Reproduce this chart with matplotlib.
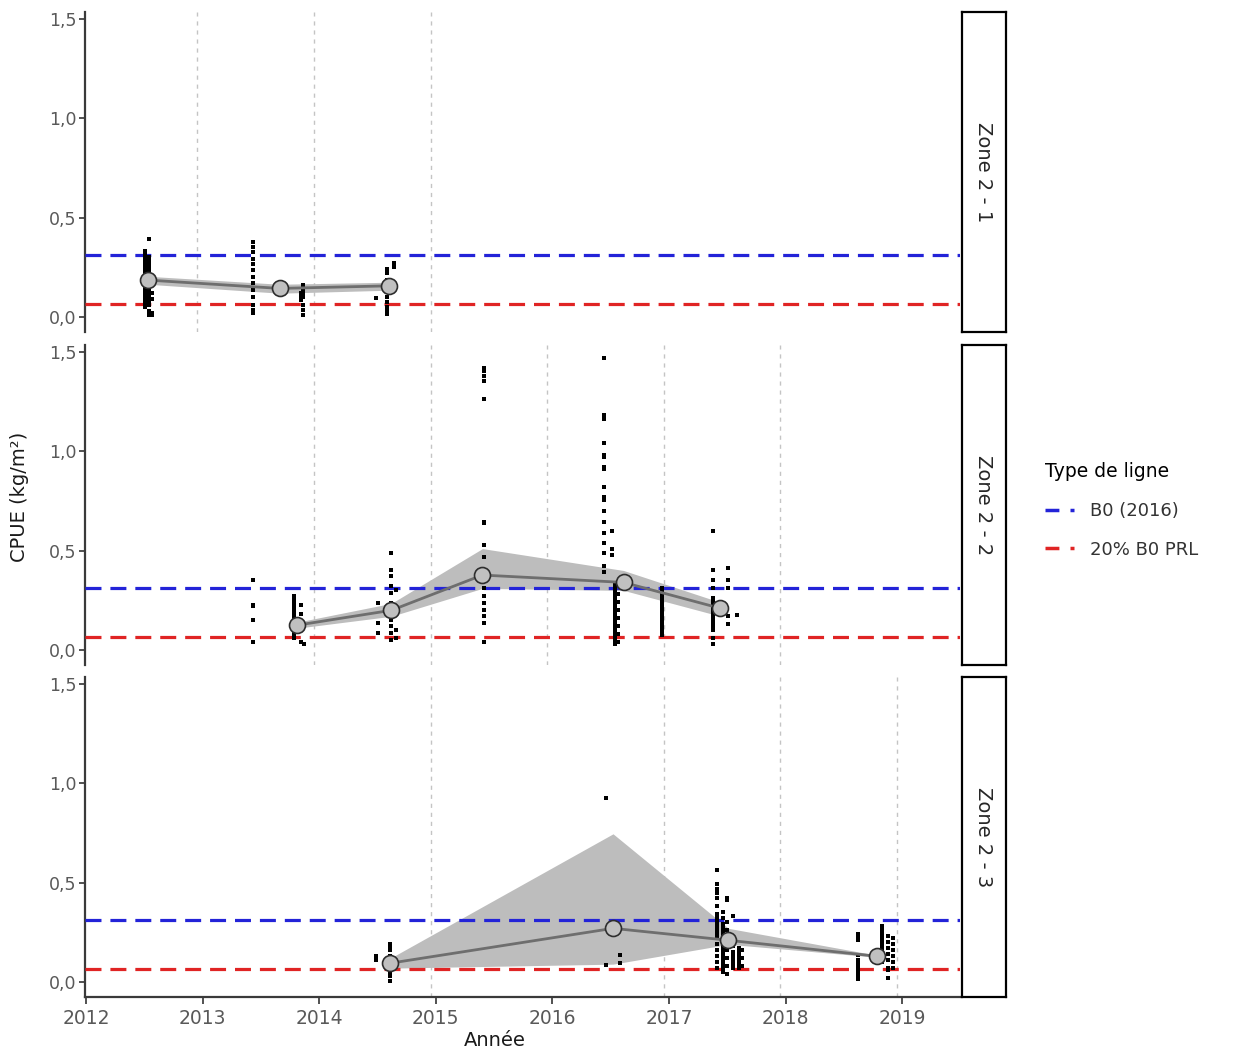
import numpy as np
import matplotlib
matplotlib.use("Agg")
import matplotlib.pyplot as plt
from matplotlib.lines import Line2D

# lignes de reference
b0 = 0.31
b0_20 = 0.065

# Zone 2 - 1 : releves bruts (date, valeurs)
z1_cols_x = [2012.51, 2012.54, 2012.57, 2013.43, 2013.84, 2013.86, 2014.49, 2014.58, 2014.64]
z1_cols_y = [
    [0.33, 0.31, 0.29, 0.27, 0.25, 0.23, 0.21, 0.19, 0.17, 0.15, 0.13, 0.11, 0.10, 0.09, 0.08, 0.06, 0.05],
    [0.39, 0.30, 0.28, 0.26, 0.24, 0.22, 0.20, 0.18, 0.16, 0.14, 0.12, 0.10, 0.08, 0.07, 0.06, 0.03, 0.01],
    [0.12, 0.09, 0.02, 0.01],
    [0.378, 0.353, 0.328, 0.294, 0.269, 0.236, 0.202, 0.169, 0.135, 0.102, 0.06, 0.035, 0.019],
    [0.12, 0.10, 0.085],
    [0.16, 0.135, 0.118, 0.10, 0.06, 0.035, 0.01],
    [0.094],
    [0.244, 0.22, 0.186, 0.128, 0.10, 0.077, 0.052, 0.03, 0.013],
    [0.27, 0.252],
]
z1_mean_x = [2012.53, 2013.66, 2014.60]
z1_mean_y = [0.186, 0.144, 0.157]
z1_lo = [0.165, 0.12, 0.135]
z1_hi = [0.205, 0.165, 0.175]

# Zone 2 - 2
z2_cols_x = [2013.43, 2013.78, 2013.84, 2013.87, 2014.50, 2014.62, 2014.66, 2015.41,
             2016.44, 2016.51, 2016.54, 2016.56, 2016.94, 2017.38, 2017.51, 2017.58]
z2_cols_y = [
    [0.35, 0.225, 0.22, 0.15, 0.04],
    [0.27, 0.25, 0.23, 0.21, 0.19, 0.17, 0.15, 0.13, 0.11, 0.09, 0.07, 0.06],
    [0.225, 0.18, 0.10, 0.04],
    [0.03],
    [0.235, 0.135, 0.085],
    [0.49, 0.40, 0.37, 0.32, 0.285, 0.235, 0.185, 0.15, 0.12, 0.085, 0.05],
    [0.30, 0.20, 0.10, 0.06],
    [1.418, 1.40, 1.375, 1.35, 1.26, 0.645, 0.64, 0.53, 0.47, 0.40, 0.35, 0.31, 0.27, 0.235, 0.20, 0.17, 0.135, 0.04],
    [1.47, 1.18, 1.16, 1.04, 0.98, 0.97, 0.92, 0.91, 0.82, 0.77, 0.755, 0.70, 0.645, 0.59, 0.54, 0.49, 0.42, 0.39],
    [0.60, 0.51, 0.48],
    [0.33, 0.31, 0.29, 0.27, 0.25, 0.23, 0.21, 0.19, 0.17, 0.15, 0.13, 0.11, 0.09, 0.07, 0.05, 0.03],
    [0.28, 0.24, 0.20, 0.16, 0.12, 0.08, 0.04],
    [0.31, 0.29, 0.27, 0.25, 0.23, 0.21, 0.19, 0.17, 0.15, 0.13, 0.11, 0.09, 0.075],
    [0.60, 0.40, 0.35, 0.31, 0.26, 0.24, 0.22, 0.20, 0.18, 0.16, 0.14, 0.12, 0.10, 0.06, 0.03],
    [0.41, 0.35, 0.31, 0.17, 0.13],
    [0.175],
]
z2_mean_x = [2013.81, 2014.62, 2015.40, 2016.61, 2017.44]
z2_mean_y = [0.125, 0.20, 0.377, 0.34, 0.21]
z2_lo = [0.11, 0.17, 0.31, 0.30, 0.17]
z2_hi = [0.14, 0.235, 0.51, 0.40, 0.24]

# Zone 2 - 3
z3_cols_x = [2014.49, 2014.61, 2016.46, 2016.58, 2017.41, 2017.46, 2017.50, 2017.55, 2017.60,
             2017.63, 2018.62, 2018.83, 2018.88, 2018.92]
z3_cols_y = [
    [0.13, 0.11],
    [0.19, 0.18, 0.16, 0.13, 0.05, 0.03, 0.005],
    [0.925, 0.085],
    [0.135, 0.095],
    [0.565, 0.495, 0.47, 0.45, 0.42, 0.38, 0.34, 0.32, 0.30, 0.28, 0.26, 0.24, 0.22, 0.19, 0.16, 0.13, 0.10, 0.07],
    [0.35, 0.32, 0.29, 0.27, 0.25, 0.23, 0.21, 0.19, 0.17, 0.15, 0.13, 0.11, 0.09, 0.07, 0.05],
    [0.42, 0.41, 0.30, 0.26, 0.20, 0.16, 0.12, 0.08, 0.04],
    [0.33, 0.18, 0.15, 0.13, 0.11, 0.09, 0.07],
    [0.17, 0.15, 0.13, 0.11, 0.09, 0.07],
    [0.16, 0.12, 0.08],
    [0.24, 0.225, 0.21, 0.135, 0.11, 0.09, 0.07, 0.05, 0.03, 0.015],
    [0.28, 0.26, 0.24, 0.22, 0.20, 0.18, 0.16, 0.14, 0.12, 0.10],
    [0.23, 0.20, 0.17, 0.14, 0.11, 0.07, 0.06, 0.02],
    [0.22, 0.19, 0.16, 0.13, 0.10, 0.07],
]
z3_mean_x = [2014.61, 2016.52, 2017.51, 2018.78]
z3_mean_y = [0.095, 0.27, 0.21, 0.13]
z3_lo = [0.07, 0.09, 0.19, 0.125]
z3_hi = [0.12, 0.745, 0.27, 0.135]

# lignes verticales (changement de saison) par zone
z1_vlines = [2013, 2014, 2015]
z2_vlines = [2014, 2015, 2016, 2017, 2018]
z3_vlines = [2015, 2017, 2018, 2019]

zones = ["Zone 2 - 1", "Zone 2 - 2", "Zone 2 - 3"]
years = [2012, 2013, 2014, 2015, 2016, 2017, 2018, 2019]
yticks = [0.0, 0.5, 1.0, 1.5]
ytick_labels = ["0,0", "0,5", "1,0", "1,5"]

panels = [
    (z1_cols_x, z1_cols_y, z1_mean_x, z1_mean_y, z1_lo, z1_hi, z1_vlines),
    (z2_cols_x, z2_cols_y, z2_mean_x, z2_mean_y, z2_lo, z2_hi, z2_vlines),
    (z3_cols_x, z3_cols_y, z3_mean_x, z3_mean_y, z3_lo, z3_hi, z3_vlines),
]

W, H = 1239, 1053
fig = plt.figure(figsize=(W / 100, H / 100), dpi=100)

blue = "#2323d8"
red = "#e02424"
px_year = 116.6
tops = [12, 345, 677]
ph = 320

for i, (cx, cy, mx, my, lo, hi, vl) in enumerate(panels):
    rect = [85 / W, 1 - (tops[i] + ph) / H, 875 / W, ph / H]
    ax = fig.add_axes(rect)
    for v in vl:
        ax.axvline(v - 0.045, color="#c4c4c4", lw=1, dashes=(3, 3.5), zorder=1)
    ax.fill_between(mx, lo, hi, color="#bdbdbd", lw=0, zorder=2)
    ax.axhline(b0, color=blue, lw=2.3, dashes=(5, 2.8), zorder=3)
    ax.axhline(b0_20, color=red, lw=2.3, dashes=(5, 2.8), zorder=3)
    for x, ys in zip(cx, cy):
        ax.plot([x] * len(ys), ys, "s", color="black", ms=2.7, mew=0, zorder=4)
    ax.plot(mx, my, color="#6e6e6e", lw=2, zorder=5)
    ax.plot(mx, my, "o", ms=11.5, mfc="#c0c0c0", mec="#2e2e2e", mew=1.2, zorder=6)

    ax.set_xlim(2012 - 1 / px_year, 2012 + 874 / px_year)
    ax.set_ylim(-0.075, 1.533)
    ax.set_yticks(yticks)
    ax.set_yticklabels(ytick_labels)
    ax.tick_params(axis="y", direction="out", length=4, width=1.2, color="#333333",
                   labelcolor="#595959", labelsize=12.5, pad=2)
    for s in ["top", "right"]:
        ax.spines[s].set_visible(False)
    ax.spines["left"].set_color("#3a3a3a")
    ax.spines["left"].set_linewidth(1.6)
    if i < 2:
        ax.spines["bottom"].set_visible(False)
        ax.set_xticks([])
    else:
        ax.spines["bottom"].set_color("#3a3a3a")
        ax.spines["bottom"].set_linewidth(1.6)
        ax.set_xticks(years)
        ax.set_xticklabels([str(y) for y in years])
        ax.tick_params(axis="x", direction="out", length=5, width=1.2, color="#333333",
                       labelcolor="#595959", labelsize=13.5, pad=4)

    # bandeau de facette
    sax = fig.add_axes([962 / W, 1 - (tops[i] + ph) / H, 44 / W, ph / H])
    sax.set_xticks([])
    sax.set_yticks([])
    for s in sax.spines.values():
        s.set_linewidth(1.6)
        s.set_color("black")
    sax.text(0.5, 0.5, zones[i], rotation=-90, ha="center", va="center",
             fontsize=14, color="#262626", transform=sax.transAxes)

fig.text(495 / W, 1 - 1040 / H, "Année", ha="center", va="center", fontsize=14, color="#1a1a1a")
fig.text(20 / W, 1 - 497 / H, "CPUE (kg/m²)", ha="center", va="center", rotation=90,
         fontsize=14, color="#1a1a1a")

handles = [
    Line2D([], [], color=blue, lw=2.5, dashes=(4, 3.2)),
    Line2D([], [], color=red, lw=2.5, dashes=(4, 3.2)),
]
leg = fig.legend(handles, ["B0 (2016)", "20% B0 PRL"], title="Type de ligne",
                 loc="upper left", bbox_to_anchor=(1029 / W, 1 - 446 / H),
                 frameon=False, fontsize=13, title_fontsize=13.5,
                 handlelength=1.6, handletextpad=0.9, labelspacing=1.15)
leg._legend_box.align = "left"
for t in leg.get_texts():
    t.set_color("#333333")

fig.savefig("out.png", dpi=100)
